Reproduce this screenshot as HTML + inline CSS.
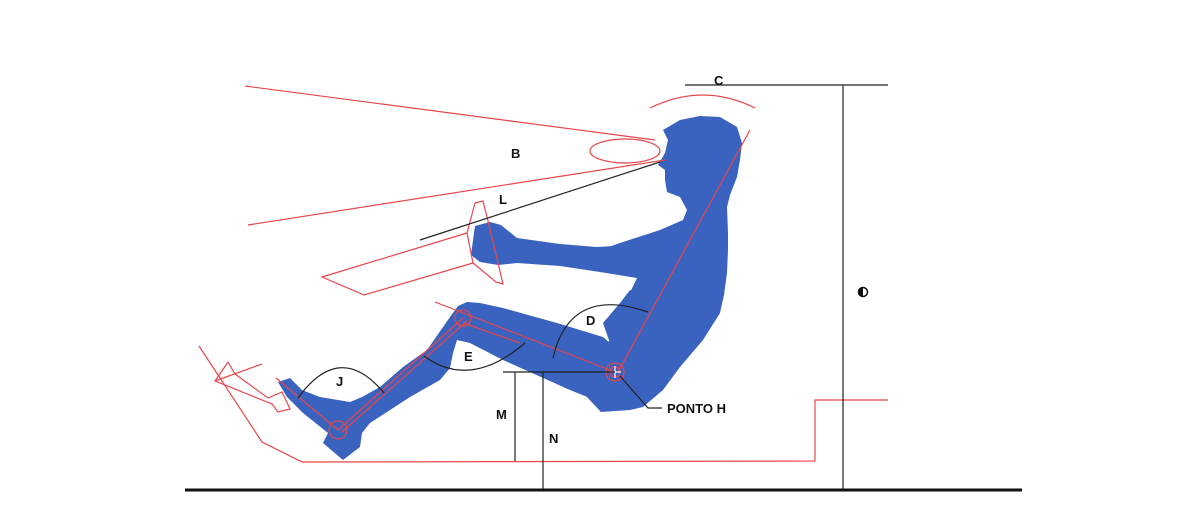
<!DOCTYPE html>
<html><head><meta charset="utf-8"><style>
html,body{margin:0;padding:0;background:#fff;}
svg{display:block}
text{font-family:"Liberation Sans",sans-serif;font-weight:bold;font-size:13px;fill:#111}
</style></head><body>
<svg width="1200" height="520" viewBox="0 0 1200 520" xmlns="http://www.w3.org/2000/svg">
<rect width="1200" height="520" fill="#fff"/>
<g fill="#3a63c0" stroke="none">
<!-- head + torso -->
<path d="M663,130 L680,120 L700,116 L720,117 L737,127 L742,143 L740,160 L737,177 L730,195 L727,207 L728,233 L728,250 L727,273 L724,295 L720,313 L703,340 L680,367 L663,390 L643,407 L630,410 L601,412 L585,395 L600,350 L610,340 L607,330 L623,307 L637,278 L620,272 L600,270 L600,250 L620,243 L660,230 L683,220 L687,210 L680,197 L667,192 L665,180 L665,170 L658,165 L665,153 L668,140 Z"/>
<!-- arm -->
<path d="M660,232 L632,245 L597,247 L560,244 L517,238 L501,225 L490,222 L475,226 L473,240 L471,255 L480,262 L498,265 L517,263 L560,266 L600,272 L637,278 L650,270 Z"/>
<!-- leg -->
<path d="M278,382 L290,378 L302,390 L320,397 L350,402 L362,397 L380,387 L403,367 L427,350 L450,317 L458,306 L467,302 L480,303 L503,308 L557,323 L603,337 L610,343 L603,323 L620,303 L630,290 L660,300 L650,400 L640,407 L620,410 L570,390 L503,360 L470,343 L457,340 L453,353 L450,368 L440,380 L410,397 L370,423 L362,433 L360,447 L343,460 L323,443 L328,433 L303,413 L287,397 Z"/>
</g>
<g fill="none" stroke="#e8454a" stroke-width="1.2">
<line x1="245" y1="86" x2="655" y2="140"/>
<line x1="248" y1="225" x2="665" y2="160"/>
<ellipse cx="625" cy="151" rx="35" ry="12"/>
<path d="M650,108 Q703,82 755,108"/>
<polyline points="467,233 322,277 364,295 473,263"/>
<polyline points="475,203 483,201 488,221 503,284 496,282 473,263 467,233 475,203"/>
<line x1="750" y1="130" x2="618" y2="372"/>
<line x1="435" y1="302" x2="615" y2="372"/>
<line x1="463" y1="323" x2="520" y2="343"/>
<line x1="463" y1="318" x2="338" y2="430"/>
<line x1="467" y1="321" x2="342" y2="432"/>
<line x1="276" y1="378" x2="338" y2="430"/>
<circle cx="463" cy="318" r="8"/>
<circle cx="338" cy="430" r="9"/>
<circle cx="615" cy="372" r="9"/>
<circle cx="615" cy="372" r="5"/>
<polyline points="199,346 262,442 302,462 815,461 815,400 888,400"/>
<polyline points="228,362 215,381 272,404 278,412 290,409 282,392 268,398 235,374 228,362"/>
<line x1="215" y1="381" x2="262" y2="364"/>
</g>
<g stroke="#fff" stroke-width="1.2"><line x1="609" y1="372" x2="621" y2="372"/><line x1="615" y1="366" x2="615" y2="378"/></g>
<g fill="none" stroke="#222" stroke-width="1.2">
<line x1="685" y1="85" x2="888" y2="85"/>
<line x1="843" y1="85" x2="843" y2="490"/>
<line x1="420" y1="240" x2="660" y2="162"/>
<path d="M298,398 Q340,340 384,393"/>
<path d="M424,356 Q470,390 525,343"/>
<path d="M553,358 Q570,285 648,312"/>
<line x1="503" y1="372" x2="615" y2="372"/>
<line x1="515" y1="372" x2="515" y2="461"/>
<line x1="543" y1="372" x2="543" y2="490"/>
<polyline points="620,376 648,408 662,408"/>
</g>
<line x1="185" y1="490" x2="1022" y2="490" stroke="#111" stroke-width="3"/>
<circle cx="863" cy="292" r="4.5" fill="#fff" stroke="#111" stroke-width="1.5"/>
<path d="M863,287.5 A4.5,4.5 0 0 0 863,296.5 Z" fill="#111"/>
<text x="714" y="85">C</text>
<text x="511" y="158">B</text>
<text x="499" y="204">L</text>
<text x="586" y="325">D</text>
<text x="464" y="361">E</text>
<text x="336" y="386">J</text>
<text x="496" y="419">M</text>
<text x="549" y="443">N</text>
<text x="667" y="413">PONTO H</text>
</svg>
</body></html>
